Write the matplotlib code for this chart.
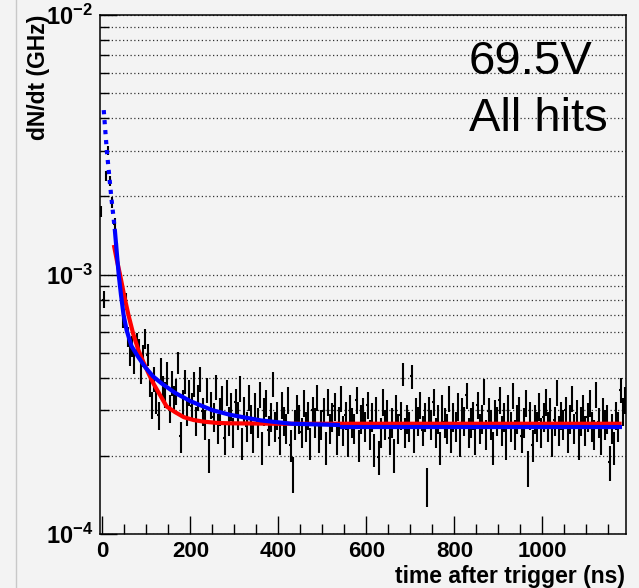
import numpy as np
import matplotlib
matplotlib.use("Agg")
import matplotlib.pyplot as plt
from matplotlib.ticker import LogLocator, FuncFormatter, NullFormatter, MultipleLocator
from matplotlib.lines import Line2D

plt.rcParams['font.family'] = ['Liberation Sans', 'DejaVu Sans']
plt.rcParams['mathtext.fontset'] = 'custom'
plt.rcParams['mathtext.rm'] = 'Liberation Sans'
plt.rcParams['mathtext.bf'] = 'Liberation Sans:bold'

# histogram: 5 ns bins starting at -5 ns, counts per bin
bin_width = 5.0
bin_start = -5.0
ghz_per_count = 4.5e-6
counts = [
    389, 178, 533, 667, 511, 422, 349, 278, 227, 196,
    150, 176, 128, 109, 118, 102, 121, 115, 94, 108,
    126, 109, 84, 70, 88, 73, 64, 96, 81, 77,
    93, 68, 85, 74, 79, 102, 53, 71, 86, 66,
    78, 69, 84, 61, 75, 88, 66, 59, 80, 45,
    70, 63, 82, 57, 66, 74, 52, 78, 61, 69,
    55, 72, 64, 81, 50, 67, 58, 75, 62, 53,
    69, 60, 77, 48, 66, 71, 56, 63, 84, 58,
    64, 52, 70, 61, 57, 73, 49, 38, 59, 68,
    62, 55, 71, 58, 64, 50, 67, 60, 75, 53,
    59, 66, 48, 72, 57, 63, 69, 52, 61, 74,
    56, 64, 51, 68, 60, 57, 73, 49, 62, 66,
    58, 70, 54, 63, 47, 67, 44, 55, 72, 59,
    65, 52, 60, 45, 68, 57, 64, 92, 55, 62,
    58, 90, 53, 66, 61, 70, 56, 63, 34, 67,
    59, 72, 55, 62, 48, 68, 60, 57, 74, 53,
    63, 58, 69, 51, 66, 61, 76, 55, 60, 64,
    52, 70, 57, 62, 79, 54, 66, 59, 48, 65,
    61, 73, 56, 63, 50, 68, 58, 76, 54, 62,
    67, 53, 60, 71, 40, 64, 49, 62, 58, 69,
    55, 63, 72, 58, 66, 51, 61, 78, 56, 64,
    59, 67, 53, 62, 74, 57, 65, 50, 61, 68,
    56, 63, 71, 58, 54, 77, 60, 52, 66, 59,
    62, 42, 57, 48, 64, 58, 80, 66, 73,
]

# fitted curves
blue_pre_t = [3, 10, 20, 28]
blue_pre_v = [4.3e-3, 3.0e-3, 2.0e-3, 1.5e-3]
blue_t = [28, 32, 37, 42, 48, 55, 66, 80, 97, 115, 135, 165, 200, 250, 290, 360, 430, 540]
blue_v = [1.5e-3, 1.25e-3, 1.0e-3, 8.4e-4, 7.0e-4, 6.1e-4, 5.3e-4, 4.85e-4, 4.4e-4,
          4.05e-4, 3.8e-4, 3.5e-4, 3.25e-4, 3.0e-4, 2.88e-4, 2.74e-4, 2.66e-4, 2.63e-4]
blue_tail_t = [540, 1180]
blue_tail_v = [2.59e-4, 2.59e-4]
red_t = [26, 33, 40, 50, 59, 70, 82, 93, 105, 116, 128, 146, 165, 185, 207, 230, 260, 290, 400, 1180]
red_v = [1.3e-3, 1.13e-3, 1.0e-3, 8.2e-4, 7.0e-4, 5.9e-4, 5.1e-4, 4.6e-4, 4.15e-4, 3.8e-4,
         3.5e-4, 3.1e-4, 2.95e-4, 2.82e-4, 2.75e-4, 2.71e-4, 2.68e-4, 2.67e-4, 2.66e-4, 2.66e-4]

bg = '#f3f3f3'
fig = plt.figure(figsize=(6.39, 5.88), dpi=100, facecolor=bg)
ax = fig.add_axes([100/639, 1-534/588, 526/639, 519/588])
ax.set_facecolor(bg)

n = np.array(counts, dtype=float)
t = bin_start + bin_width*(np.arange(len(n)) + 0.5)
ax.errorbar(t, n*ghz_per_count, yerr=np.sqrt(n)*ghz_per_count, xerr=bin_width/2,
            fmt='none', ecolor='black', elinewidth=1.5, zorder=3)

ax.plot(red_t, red_v, color='#ff0000', lw=3.0, zorder=4, solid_capstyle='butt')
ax.plot(blue_t, blue_v, color='#0000ff', lw=3.0, zorder=5, solid_capstyle='butt')
ax.plot(blue_tail_t, blue_tail_v, color='#0000ff', lw=3.0, zorder=5, solid_capstyle='butt')
ax.plot(blue_pre_t, blue_pre_v, color='#0000ff', lw=3.0, ls=(0, (1, 1.4)), zorder=5)

ax.set_yscale('log')
ax.set_ylim(1e-4, 1e-2)
ax.set_xlim(-5.5, 1190)

ax.yaxis.set_major_locator(LogLocator(base=10))
ax.yaxis.set_minor_locator(LogLocator(base=10, subs=np.arange(2, 10)))
ax.yaxis.set_major_formatter(FuncFormatter(lambda v, p: r'$\mathbf{10^{%d}}$' % round(np.log10(v))))
ax.yaxis.set_minor_formatter(NullFormatter())
ax.xaxis.set_major_locator(MultipleLocator(200))
ax.xaxis.set_minor_locator(MultipleLocator(50))

ax.tick_params(which='both', direction='in', top=False, right=False, width=1.0)
ax.tick_params(axis='x', which='major', length=13, labelsize=16, pad=5)
ax.tick_params(axis='x', which='minor', length=7)
ax.tick_params(axis='y', which='major', length=12, labelsize=17, pad=5)
ax.tick_params(axis='y', which='minor', length=6.5)
for lab in ax.get_xticklabels():
    lab.set_fontweight('bold')

ax.yaxis.grid(True, which='both', linestyle=(0, (1, 2)), color='#333333', linewidth=0.9)
ax.set_axisbelow(True)
for s in ax.spines.values():
    s.set_linewidth(1.1)

fig.text(625/639, 1-577/588, 'time after trigger (ns)', ha='right', va='center',
         fontsize=16.5, fontweight='bold')
fig.text(38.5/639, 1-15/588, 'dN/dt (GHz)', ha='center', va='top', rotation=90,
         fontsize=16.5, fontweight='bold')

fig.text(469/639, 1-74/588, '69.5V', ha='left', va='baseline', fontsize=34)
fig.text(469/639, 1-131/588, 'All hits', ha='left', va='baseline', fontsize=34)

fig.add_artist(Line2D([16/639, 16/639], [0, 1], color='#c8c8c8', lw=1.0))

fig.savefig('out.png', dpi=100, facecolor=bg)
